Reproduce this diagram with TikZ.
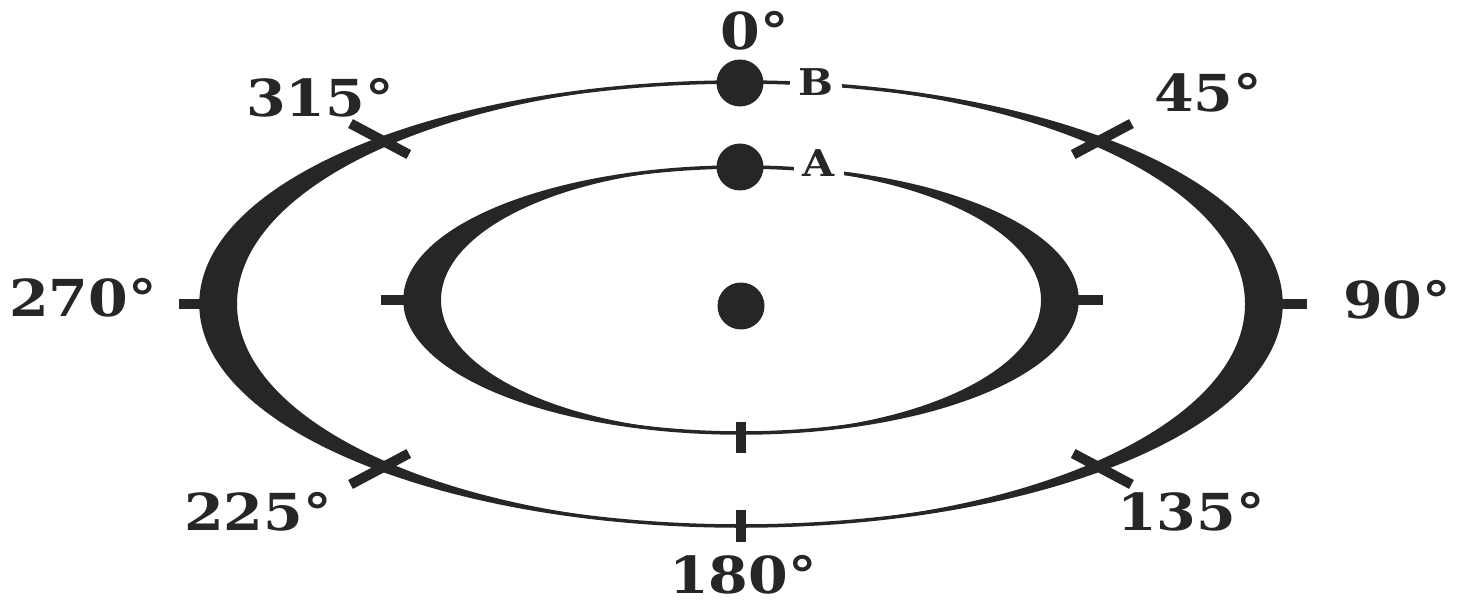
\documentclass[tikz,border=0pt]{standalone}
\usepackage{fontspec}
\setmainfont{DejaVu Serif}[FakeStretch=1.12]
\usetikzlibrary{calc, math}
\definecolor{myblack}{RGB}{38,38,38}

\begin{document}
\begin{tikzpicture}[x=0.02cm, y=-0.02cm,
  deg/.style={font=\fontsize{29}{30}\selectfont\bfseries, text=myblack, inner sep=0pt},
  ltr/.style={font=\fontsize{21}{22}\selectfont\bfseries, text=myblack, fill=white, inner xsep=5pt, inner ysep=2pt},
  orbit/.style={line width=2pt, color=myblack},
  tck/.style={line width=5.7pt, color=myblack},
  dot/.style={circle, fill=myblack, minimum size=0.94cm, inner sep=0pt}]
\tikzmath{
\ao=540; \bo=222; %outer orbit
\ai=336; \bi=133; %inner orbit
\dw=36;
}

\useasboundingbox (0,0) rectangle (1463,605);

 \coordinate (O) at (741,304);
 \coordinate (I) at (741,300);

 %outer orbit
 \fill[myblack, even odd rule] (O) ellipse ({\ao} and {\bo}) (O) ellipse ({\ao-\dw} and {\bo});
 \draw[orbit] (O) ellipse ({\ao} and {\bo});

 %inner orbit
 \fill[myblack, even odd rule] (I) ellipse ({\ai} and {\bi}) (I) ellipse ({\ai-\dw} and {\bi});
 \draw[orbit] (I) ellipse ({\ai} and {\bi});

 %ticks
 \draw[tck] ($(O)+(-\ao-1,0)$) -- ++(-21,0);
 \draw[tck] ($(O)+(\ao+1,0)$) -- ++(25,0);
 \draw[tck] ($(O)+(0,\bo)$) ++(0,-16) -- ++(0,32);
 \draw[tck] ($(I)+(-\ai-1,0)$) -- ++(-23,0);
 \draw[tck] ($(I)+(\ai+1,0)$) -- ++(25,0);
 \draw[tck] ($(I)+(0,\bi)$) ++(0,-11) -- ++(0,31);
 \foreach \t/\r in {-48/-28, 48/28, 132/-28, 228/28}
 {
  \draw[tck] ($(O)+(\t:{\ao} and {\bo})$) ++(\r+180:33) -- ++(\r:66);
 }

 %labels
 \node[ltr] (lB) at (816,82) {B};
 \node[ltr] (lA) at (819,163) {A};
 \node[dot] (dB) at (740,83) {};
 \node[dot] (dA) at (740,167) {};
 \node[dot] (dC) at (741,306) {};

 \node[deg] (l0) at (755,31) {0°};
 \node[deg] (l45) at (1208,93) {45°};
 \node[deg] (l90) at (1397,300) {90°};
 \node[deg] (l135) at (1191,512) {135°};
 \node[deg] (l180) at (743,575) {180°};
 \node[deg] (l225) at (258,512) {225°};
 \node[deg] (l270) at (83,298) {270°};
 \node[deg] (l315) at (320,98) {315°};

\end{tikzpicture}
\end{document}
